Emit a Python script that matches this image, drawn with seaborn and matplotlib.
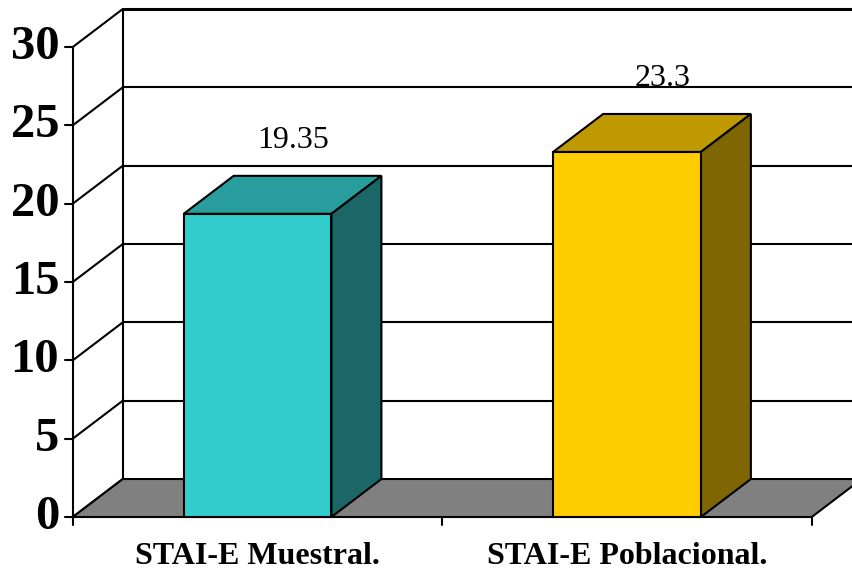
import matplotlib
matplotlib.use("Agg")
import matplotlib.pyplot as plt
import seaborn as sns
import pandas as pd
from matplotlib.patches import Polygon

# Chart data
categories = ["STAI-E Muestral.", "STAI-E Poblacional."]
values = [19.35, 23.3]
value_labels = ["19.35", "23.3"]
yticks = [0, 5, 10, 15, 20, 25, 30]

front_colors = ["#33CCCC", "#FFCC00"]
top_colors = ["#289D9D", "#BF9900"]
side_colors = ["#1B6767", "#7F6600"]

sns.set_theme(style="white")
plt.rcParams["font.family"] = ["Liberation Serif", "DejaVu Serif"]

fig = plt.figure(figsize=(8.52, 5.72), dpi=100)
ax = fig.add_axes([0, 0, 1, 1])

df = pd.DataFrame({"cat": categories, "val": values})
sns.barplot(data=df, x="cat", y="val", hue="cat", palette=front_colors,
            saturation=1, width=0.4, edgecolor="black", linewidth=1.5,
            legend=False, ax=ax, zorder=5)

ax.set_xlim(-0.697, 1.609)
ax.set_ylim(-3.51, 33.0)
ax.axis("off")

# 3-D depth offset (x in category units, y in value units)
dx, dy = 0.1353, 2.425
x0, x1 = -0.5, 1.5
ymax = yticks[-1]
lw = 1.5

# back wall grid lines
for v in yticks[1:]:
    ax.plot([x0 + dx, 1.8], [v + dy, v + dy], color="black",
            lw=2.2 if v == ymax else lw, zorder=1, solid_capstyle="butt")

# left side wall: verticals and diagonal grid lines
ax.plot([x0, x0], [0, ymax], color="black", lw=lw, zorder=1)
ax.plot([x0 + dx, x0 + dx], [dy, ymax + dy], color="black", lw=lw, zorder=1)
for v in yticks:
    ax.plot([x0, x0 + dx], [v, v + dy], color="black", lw=lw, zorder=1)

# floor
floor = Polygon([(x0, 0), (x1, 0), (x1 + dx, dy), (x0 + dx, dy)],
                closed=True, facecolor="#808080", edgecolor="black",
                lw=lw, zorder=2)
ax.add_patch(floor)

# tick marks
tick_dx = 8 / 369.5
tick_dy = 8 / 15.667
for v in yticks:
    ax.plot([x0 - tick_dx, x0], [v, v], color="black", lw=lw, zorder=2)
    ax.text(x0 - tick_dx - 0.015, v, str(v), ha="right", va="center",
            fontsize=35, fontweight="bold", color="black")
for xb in [x0, 0.5, x1]:
    ax.plot([xb, xb], [0, -tick_dy], color="black", lw=lw, zorder=2)

# 3-D faces of the bars
bars = [p for p in ax.patches if p is not floor]
for bar, top_c, side_c, lab, val in zip(bars, top_colors, side_colors,
                                        value_labels, values):
    bx0 = bar.get_x()
    bx1 = bx0 + bar.get_width()
    h = bar.get_height()
    top = Polygon([(bx0, h), (bx1, h), (bx1 + dx, h + dy), (bx0 + dx, h + dy)],
                  closed=True, facecolor=top_c, edgecolor="black", lw=lw,
                  zorder=4)
    side = Polygon([(bx1, 0), (bx1 + dx, dy), (bx1 + dx, h + dy), (bx1, h)],
                   closed=True, facecolor=side_c, edgecolor="black", lw=lw,
                   zorder=4)
    ax.add_patch(top)
    ax.add_patch(side)
    cx = bx0 + bar.get_width() / 2 + 0.72 * dx
    ax.text(cx, val + 4.7, lab, ha="center", va="center", fontsize=23,
            color="black", zorder=6)

# category labels
for i, c in enumerate(categories):
    ax.text(i, -2.52, c, ha="center", va="center", fontsize=23,
            fontweight="bold", color="black")

fig.savefig("out.png", dpi=100)
